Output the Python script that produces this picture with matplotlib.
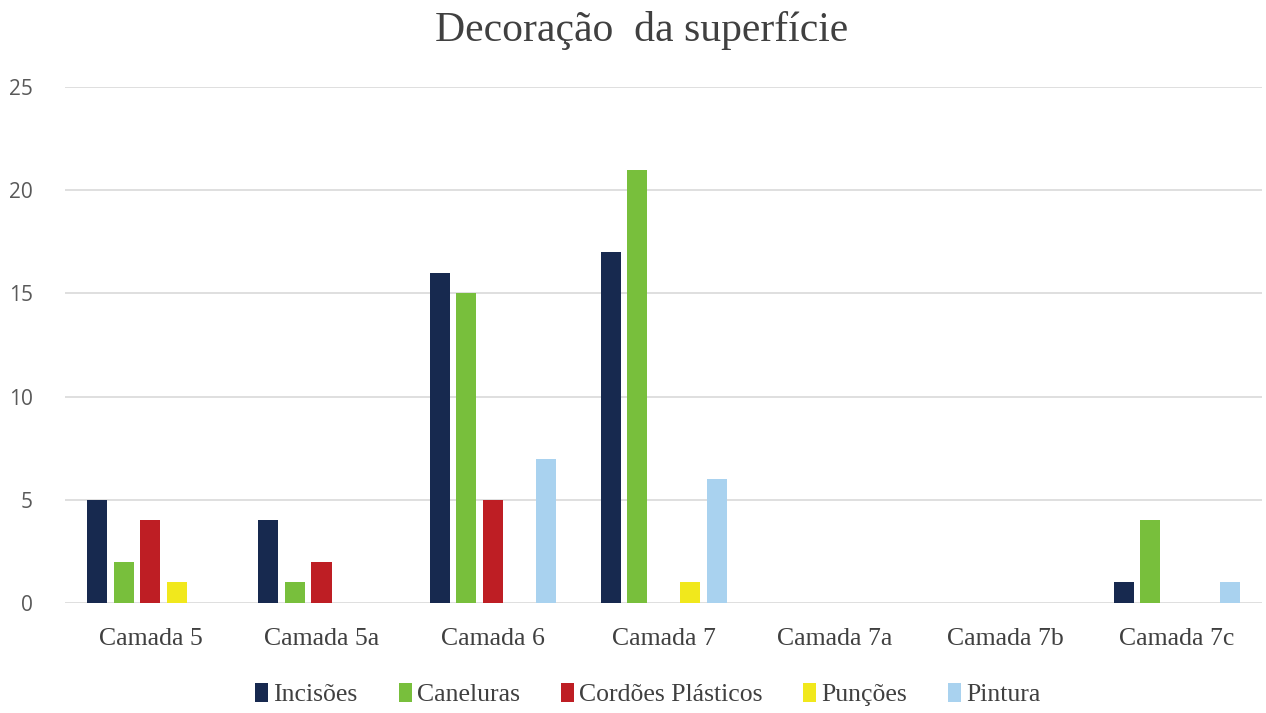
import numpy as np
from matplotlib import pyplot as plt

# Categories and series values
CATEGORIES = ['Camada 5', 'Camada 5a', 'Camada 6', 'Camada 7',
              'Camada 7a', 'Camada 7b', 'Camada 7c']
SERIES = ['Incisões', 'Caneluras', 'Cordões Plásticos', 'Punções', 'Pintura']
incisoes = [5, 4, 16, 17, 0, 0, 1]
caneluras = [2, 1, 15, 21, 0, 0, 4]
cordoes = [4, 2, 5, 0, 0, 0, 0]
puncoes = [1, 0, 0, 1, 0, 0, 0]
pintura = [0, 0, 7, 6, 0, 0, 1]
Y_TICKS = [0, 5, 10, 15, 20, 25]

COLORS = ['#17294f', '#78bf3c', '#be1e24', '#f1e81c', '#a9d2ef']

fig = plt.figure(figsize=(12.66, 7.13), dpi=100)
ax = fig.add_axes([0.0513, 0.1543, 0.9457, 0.7237])

x = np.arange(len(CATEGORIES))
width = 0.117
step = 0.155
values = [incisoes, caneluras, cordoes, puncoes, pintura]
for i, (name, vals) in enumerate(zip(SERIES, values)):
    ax.bar(x + (i - 2) * step, vals, width, color=COLORS[i], label=name,
           zorder=3)

ax.set_xlim(-0.5, len(CATEGORIES) - 0.5)
ax.set_ylim(0, 25)
ax.set_yticks(Y_TICKS)
ax.grid(axis='y', color='#d9d9d9', linewidth=1.2, zorder=0)
for s in ax.spines.values():
    s.set_visible(False)
ax.tick_params(axis='both', length=0)
ax.tick_params(axis='y', pad=23, labelsize=15, labelcolor='#595959')
ax.set_xticks(x)
ax.set_xticklabels(CATEGORIES, family='Liberation Serif', fontsize=18.5,
                   color='#404040')
ax.tick_params(axis='x', pad=18)
for lbl in ax.get_yticklabels():
    lbl.set_family('Open Sans')

fig.suptitle('Decoração  da superfície', family='Liberation Serif',
             fontsize=30, color='#404040', x=0.507, y=0.985)

ax.legend(loc='lower center', bbox_to_anchor=(0.487, -0.245), ncol=5,
          frameon=False, prop={'family': 'Liberation Serif', 'size': 18.5},
          handlelength=0.5, handleheight=0.8, handletextpad=0.2,
          columnspacing=1.6, labelcolor='#404040')

fig.savefig('out.png', dpi=100)
